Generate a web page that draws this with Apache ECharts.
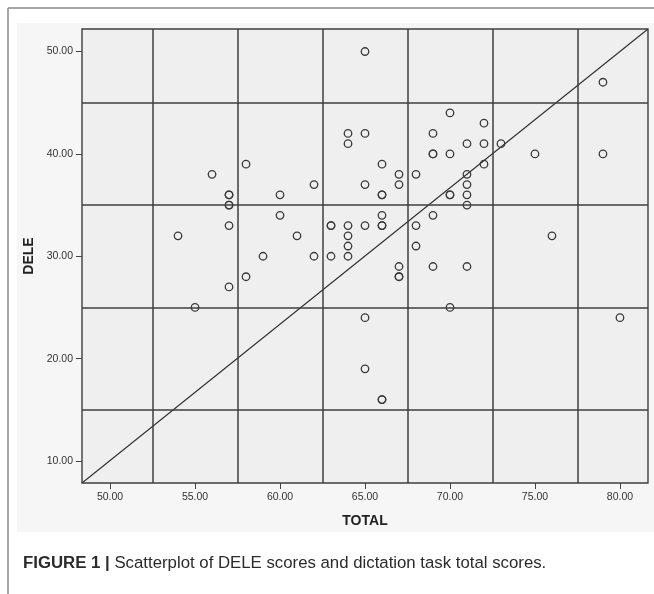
<!DOCTYPE html>
<html>
<head>
<meta charset="utf-8">
<script src="https://cdn.jsdelivr.net/npm/echarts@6/dist/echarts.min.js"></script>
<style>
  html, body { margin: 0; padding: 0; background: #ffffff; }
  #chart { width: 654px; height: 594px; }
</style>
</head>
<body>
<div id="chart"></div>
<script>
// ---- Data ----
const totalScores = [
  54, 55, 56,
  57, 57, 57, 57, 57, 57,
  58, 58, 59, 60, 60, 61, 62, 62,
  63, 63, 63,
  64, 64, 64, 64, 64, 64,
  65, 65, 65, 65, 65, 65,
  66, 66, 66, 66, 66, 66, 66, 66,
  67, 67, 67, 67, 67,
  68, 68, 68,
  69, 69, 69, 69, 69,
  70, 70, 70, 70, 70,
  71, 71, 71, 71, 71, 71,
  72, 72, 72,
  73, 75, 76, 79, 79, 80
];
const deleScores = [
  32, 25, 38,
  36, 36, 35, 35, 33, 27,
  39, 28, 30, 36, 34, 32, 37, 30,
  33, 33, 30,
  42, 41, 33, 32, 31, 30,
  50, 42, 37, 33, 24, 19,
  39, 36, 36, 34, 33, 33, 16, 16,
  38, 37, 29, 28, 28,
  38, 33, 31,
  42, 40, 40, 34, 29,
  44, 40, 36, 36, 25,
  41, 38, 37, 36, 35, 29,
  43, 41, 39,
  41, 40, 32, 47, 40, 24
];
const xTicks = [50, 55, 60, 65, 70, 75, 80];
const yTicks = [10, 20, 30, 40, 50];
const xGridLines = [52.5, 57.5, 62.5, 67.5, 72.5, 77.5];
const yGridLines = [15, 25, 35, 45];
const xRange = [48.35, 81.65];
const yRange = [7.85, 52.2];
const xAxisTitle = 'TOTAL';
const yAxisTitle = 'DELE';
const captionBold = 'FIGURE 1';
const captionText = 'Scatterplot of DELE scores and dictation task total scores.';

const points = totalScores.map((t, i) => [t, deleScores[i]]);
const diagonal = [[xRange[0], yRange[0]], [xRange[1], yRange[1]]];

const chart = echarts.init(document.getElementById('chart'), null, { renderer: 'canvas' });
const FONT = '"Liberation Sans", Arial, sans-serif';

const option = {
  animation: false,
  backgroundColor: '#ffffff',
  graphic: [
    { type: 'rect', z: -10, shape: { x: 17, y: 23, width: 637, height: 509 }, style: { fill: '#f6f6f6' } },
    { type: 'line', z: -5, shape: { x1: 8, y1: 8, x2: 654, y2: 8 }, style: { stroke: '#8a8a8a', lineWidth: 1.5 } },
    { type: 'line', z: -5, shape: { x1: 8, y1: 8, x2: 8, y2: 594 }, style: { stroke: '#8a8a8a', lineWidth: 1.5 } },
    {
      type: 'text', left: 23, top: 555,
      style: {
        text: '{b|' + captionBold + ' |}{r| ' + captionText + '}',
        rich: {
          b: { fontFamily: FONT, fontWeight: 'bold', fontSize: 16.8, fill: '#2b2b2b' },
          r: { fontFamily: FONT, fontSize: 16.8, fill: '#2b2b2b' }
        }
      }
    }
  ],
  grid: {
    left: 82, top: 29, right: 6, bottom: 111,
    show: true, backgroundColor: '#efefef', borderColor: '#3f3f3f', borderWidth: 1.4
  },
  xAxis: {
    type: 'value', min: xRange[0], max: xRange[1],
    name: xAxisTitle, nameLocation: 'middle', nameGap: 31,
    nameTextStyle: { fontFamily: FONT, fontWeight: 'bold', fontSize: 14, color: '#222' },
    axisLine: { show: false },
    axisTick: { show: true, customValues: xTicks, length: 6, lineStyle: { color: '#444' } },
    axisLabel: { customValues: xTicks, margin: 9, fontFamily: FONT, fontSize: 10.5, color: '#333',
      formatter: v => v.toFixed(2) },
    splitLine: { show: false }
  },
  yAxis: {
    type: 'value', min: yRange[0], max: yRange[1],
    name: yAxisTitle, nameLocation: 'middle', nameGap: 45, nameRotate: 90,
    nameTextStyle: { fontFamily: FONT, fontWeight: 'bold', fontSize: 14, color: '#222' },
    axisLine: { show: false },
    axisTick: { show: true, customValues: yTicks, length: 6, lineStyle: { color: '#444' } },
    axisLabel: { customValues: yTicks, margin: 9, fontFamily: FONT, fontSize: 10.5, color: '#333',
      formatter: v => v.toFixed(2) },
    splitLine: { show: false }
  },
  series: [
    {
      type: 'line', data: diagonal, symbol: 'none', silent: true, z: 3,
      lineStyle: { color: '#2e2e2e', width: 1.1 },
      markLine: {
        silent: true, symbol: 'none', animation: false,
        label: { show: false },
        lineStyle: { color: '#3f3f3f', width: 1.5, type: 'solid', opacity: 1 },
        data: xGridLines.map(v => ({ xAxis: v })).concat(yGridLines.map(v => ({ yAxis: v })))
      }
    },
    {
      type: 'scatter', data: points, symbol: 'circle', symbolSize: 7.5, z: 4,
      itemStyle: { color: 'rgba(0,0,0,0)', borderColor: '#3a3a3a', borderWidth: 1.3, opacity: 1 }
    }
  ]
};
chart.setOption(option);
</script>
</body>
</html>
